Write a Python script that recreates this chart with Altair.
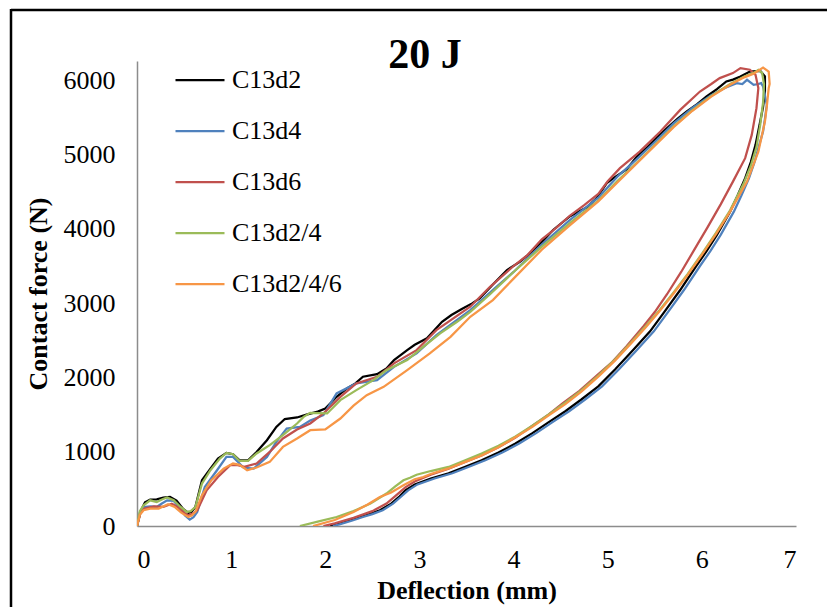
import altair as alt
import pandas as pd

series_names = ["C13d2", "C13d4", "C13d6", "C13d2/4", "C13d2/4/6"]
series_colors = ["#000000", "#4F81BD", "#C0504D", "#9BBB59", "#F79646"]

x_ticks = [0, 1, 2, 3, 4, 5, 6, 7]
y_ticks = [0, 1000, 2000, 3000, 4000, 5000, 6000]
chart_title = "20 J"
x_title = "Deflection (mm)"
y_title = "Contact force (N)"

# C13d2 (black): loading then unloading
c13d2_x = [0, 0.04, 0.085, 0.14, 0.21, 0.28, 0.35, 0.42, 0.49, 0.545, 0.58, 0.62, 0.69, 0.78, 0.86, 0.95, 1.02, 1.09, 1.18, 1.27, 1.38, 1.48, 1.57, 1.70, 1.80, 1.92, 2.0, 2.12, 2.23, 2.32, 2.40, 2.55, 2.65, 2.73, 2.87, 2.95, 3.08, 3.24, 3.34, 3.45, 3.56, 3.64, 3.78, 3.93, 4.07, 4.20, 4.32, 4.42, 4.60, 4.78, 4.88, 4.99, 5.06, 5.20, 5.31, 5.41, 5.52, 5.63, 5.74, 5.84, 5.95, 6.05, 6.16, 6.26, 6.33, 6.41, 6.51, 6.62, 6.67,
           6.67, 6.65, 6.62, 6.57, 6.52, 6.46, 6.38, 6.30, 6.16, 6.05, 5.94, 5.77, 5.60, 5.45, 5.27, 5.08, 4.90, 4.72, 4.55, 4.37, 4.20, 4.02, 3.84, 3.66, 3.48, 3.31, 3.12, 2.95, 2.85, 2.79, 2.70, 2.58, 2.47, 2.37, 2.25, 2.12, 2.05]
c13d2_y = [0, 200, 320, 356, 360, 383, 391, 340, 230, 175, 190, 256, 616, 773, 908, 984, 966, 885, 885, 997, 1155, 1334, 1440, 1461, 1500, 1540, 1582, 1739, 1852, 1920, 2010, 2045, 2121, 2233, 2368, 2440, 2526, 2749, 2840, 2920, 2997, 3065, 3250, 3446, 3558, 3700, 3850, 3985, 4171, 4291, 4412, 4615, 4682, 4800, 4973, 5086, 5230, 5356, 5480, 5580, 5680, 5782, 5880, 5984, 6010, 6051, 6118, 6128, 6051,
           5849, 5640, 5445, 5131, 4900, 4682, 4450, 4232, 3920, 3700, 3500, 3177, 2880, 2620, 2370, 2110, 1880, 1703, 1545, 1395, 1250, 1110, 990, 885, 795, 710, 640, 560, 480, 400, 300, 212, 160, 121, 70, 23, 0]

# C13d4 (blue)
c13d4_x = [0, 0.03, 0.07, 0.14, 0.21, 0.26, 0.32, 0.39, 0.45, 0.51, 0.56, 0.60, 0.64, 0.72, 0.85, 0.95, 1.02, 1.13, 1.24, 1.38, 1.48, 1.59, 1.73, 1.84, 1.98, 2.12, 2.33, 2.55, 2.73, 2.97, 3.18, 3.54, 3.80, 4.0, 4.3, 4.6, 4.9, 5.1, 5.3, 5.5, 5.7, 5.9, 6.1, 6.25, 6.37, 6.43, 6.48, 6.55, 6.60, 6.63, 6.65,
           6.69, 6.67, 6.65, 6.61, 6.56, 6.50, 6.42, 6.34, 6.20, 6.09, 5.98, 5.81, 5.64, 5.49, 5.31, 5.12, 4.94, 4.76, 4.59, 4.41, 4.24, 4.06, 3.88, 3.70, 3.52, 3.35, 3.16, 2.98, 2.88, 2.81, 2.72, 2.61, 2.50, 2.40, 2.28, 2.15, 2.08]
c13d4_y = [0, 180, 256, 263, 256, 300, 346, 338, 250, 140, 86, 120, 189, 526, 751, 930, 930, 787, 774, 930, 1132, 1312, 1334, 1420, 1492, 1784, 1919, 1964, 2143, 2323, 2570, 2907, 3200, 3420, 3790, 4120, 4420, 4700, 4930, 5170, 5420, 5630, 5800, 5900, 5962, 5950, 6007, 5939, 5950, 5962, 5916,
           5670, 5480, 5310, 5131, 4900, 4682, 4450, 4232, 3920, 3700, 3500, 3177, 2880, 2620, 2370, 2110, 1880, 1703, 1545, 1395, 1250, 1110, 990, 885, 795, 710, 640, 560, 480, 400, 300, 212, 160, 121, 70, 23, 0]

# C13d6 (red)
c13d6_x = [0, 0.04, 0.08, 0.18, 0.28, 0.37, 0.44, 0.50, 0.545, 0.60, 0.64, 0.74, 0.86, 0.99, 1.07, 1.14, 1.27, 1.41, 1.55, 1.70, 1.84, 1.98, 2.16, 2.33, 2.55, 2.73, 2.97, 3.18, 3.54, 3.75, 4.0, 4.15, 4.3, 4.45, 4.6, 4.75, 4.9, 5.0, 5.13, 5.34, 5.56, 5.77, 5.98, 6.10, 6.19, 6.33, 6.41, 6.51, 6.57,
           6.60, 6.59, 6.58, 6.53, 6.46, 6.33, 6.20, 6.06, 5.92, 5.78, 5.63, 5.50, 5.38, 5.20, 5.05, 4.88, 4.70, 4.52, 4.37, 4.20, 4.02, 3.84, 3.66, 3.48, 3.31, 3.12, 2.95, 2.85, 2.74, 2.65, 2.50, 2.30, 2.10, 1.98]
c13d6_y = [0, 200, 234, 263, 256, 301, 250, 180, 144, 170, 212, 481, 660, 818, 818, 796, 841, 997, 1178, 1299, 1380, 1515, 1739, 1919, 2008, 2189, 2368, 2637, 2952, 3220, 3500, 3650, 3860, 4010, 4180, 4320, 4470, 4640, 4817, 5040, 5310, 5602, 5849, 5950, 6030, 6097, 6164, 6142, 6074,
           5895, 5760, 5625, 5265, 4952, 4636, 4330, 4020, 3720, 3420, 3120, 2880, 2690, 2420, 2210, 2020, 1820, 1650, 1500, 1350, 1190, 1060, 950, 860, 770, 690, 600, 520, 400, 302, 200, 110, 35, 0]

# C13d2/4 (green)
c13d24_x = [0, 0.03, 0.07, 0.14, 0.21, 0.27, 0.32, 0.39, 0.46, 0.53, 0.57, 0.62, 0.69, 0.78, 0.88, 0.95, 1.02, 1.09, 1.18, 1.27, 1.41, 1.55, 1.70, 1.77, 1.84, 2.02, 2.16, 2.33, 2.51, 2.65, 2.87, 3.04, 3.22, 3.40, 3.54, 3.75, 4.0, 4.3, 4.6, 4.9, 5.1, 5.3, 5.5, 5.7, 5.9, 6.1, 6.3, 6.45, 6.55, 6.60, 6.64,
            6.66, 6.65, 6.62, 6.58, 6.52, 6.44, 6.30, 6.15, 6.00, 5.85, 5.70, 5.55, 5.40, 5.25, 5.08, 4.90, 4.72, 4.55, 4.37, 4.20, 4.02, 3.84, 3.66, 3.48, 3.31, 3.12, 2.97, 2.90, 2.83, 2.74, 2.65, 2.48, 2.30, 2.12, 1.92, 1.73]
c13d24_y = [0, 200, 279, 346, 323, 360, 383, 346, 260, 189, 200, 256, 571, 751, 908, 984, 966, 876, 876, 976, 1088, 1222, 1380, 1469, 1523, 1515, 1694, 1829, 1964, 2098, 2233, 2412, 2593, 2749, 2884, 3120, 3420, 3760, 4080, 4380, 4640, 4880, 5130, 5380, 5600, 5790, 5950, 6050, 6100, 6140, 6100,
            5950, 5700, 5400, 5100, 4850, 4600, 4250, 3945, 3665, 3395, 3145, 2905, 2685, 2475, 2245, 2025, 1825, 1660, 1500, 1350, 1205, 1080, 975, 880, 795, 740, 690, 650, 616, 530, 437, 302, 200, 121, 60, 0]

# C13d2/4/6 (orange)
c13d246_x = [0, 0.03, 0.07, 0.14, 0.23, 0.33, 0.40, 0.47, 0.545, 0.58, 0.62, 0.69, 0.79, 0.92, 1.02, 1.09, 1.17, 1.27, 1.41, 1.55, 1.70, 1.84, 2.0, 2.16, 2.30, 2.44, 2.62, 2.87, 3.11, 3.33, 3.54, 3.78, 4.0, 4.3, 4.6, 4.9, 5.1, 5.3, 5.5, 5.7, 5.9, 6.1, 6.3, 6.45, 6.55, 6.65, 6.71,
             6.72, 6.71, 6.69, 6.67, 6.60, 6.48, 6.30, 6.15, 6.00, 5.85, 5.70, 5.55, 5.40, 5.25, 5.08, 4.90, 4.72, 4.55, 4.37, 4.20, 4.02, 3.84, 3.66, 3.48, 3.31, 3.12, 3.04, 2.95, 2.83, 2.70, 2.58, 2.45, 2.30, 2.10, 1.87]
c13d246_y = [0, 150, 212, 234, 234, 292, 256, 180, 121, 140, 189, 414, 616, 773, 841, 823, 751, 787, 863, 1065, 1178, 1290, 1300, 1447, 1620, 1761, 1873, 2098, 2323, 2547, 2816, 3042, 3330, 3720, 4050, 4370, 4620, 4870, 5120, 5370, 5590, 5780, 5940, 6040, 6090, 6172, 6118,
             5950, 5895, 5650, 5445, 5040, 4636, 4232, 3930, 3650, 3380, 3130, 2890, 2670, 2460, 2230, 2010, 1810, 1640, 1485, 1335, 1195, 1060, 950, 860, 775, 700, 660, 630, 549, 450, 391, 290, 189, 80, 0]

all_x = [c13d2_x, c13d4_x, c13d6_x, c13d24_x, c13d246_x]
all_y = [c13d2_y, c13d4_y, c13d6_y, c13d24_y, c13d246_y]

rows = []
for k, (name, xs, ys) in enumerate(zip(series_names, all_x, all_y)):
    for i, (xv, yv) in enumerate(zip(xs, ys)):
        rows.append({"series": name, "sorder": k, "idx": i, "x": xv, "y": yv})
df = pd.DataFrame(rows)

FONT = "Liberation Serif"

lines = alt.Chart(df).mark_line(strokeWidth=2.25, clip=True).encode(
    x=alt.X("x:Q",
            scale=alt.Scale(domain=[0, 7], nice=False, zero=False),
            axis=alt.Axis(values=x_ticks, title=x_title, format="d",
                          labelPadding=20, titlePadding=5)),
    y=alt.Y("y:Q",
            scale=alt.Scale(domain=[0, 6260], nice=False),
            axis=alt.Axis(values=y_ticks, title=y_title, format="d",
                          labelPadding=22, titlePadding=12)),
    color=alt.Color("series:N",
                    scale=alt.Scale(domain=series_names, range=series_colors),
                    legend=alt.Legend(orient="none", legendX=37, legendY=-7,
                                      title=None, symbolType="stroke",
                                      symbolSize=2401, symbolStrokeWidth=2.25,
                                      labelFont=FONT, labelFontSize=26,
                                      labelColor="black", labelOffset=6,
                                      rowPadding=12, padding=0, labelLimit=400)),
    order=alt.Order("idx:Q"),
)

# chart-area frame: only the top and left edges fall inside the picture
edge_df = pd.DataFrame({"f": [0]})
frame_top = alt.Chart(edge_df).mark_rule(stroke="black", strokeWidth=2.5).encode(
    x=alt.value(-126), x2=alt.value(690), y=alt.value(-51)
)
frame_left = alt.Chart(edge_df).mark_rule(stroke="black", strokeWidth=2.5).encode(
    x=alt.value(-126), y=alt.value(-52), y2=alt.value(560)
)

title_df = pd.DataFrame({"t": [chart_title]})
title = alt.Chart(title_df).mark_text(font=FONT, fontSize=42, fontWeight="bold",
                                      color="black", baseline="alphabetic",
                                      align="center").encode(
    x=alt.value(288), y=alt.value(7), text="t:N"
)

chart = alt.layer(frame_top, frame_left, lines, title).properties(
    width=659, height=465,
    autosize=alt.AutoSizeParams(type="none"),
    padding={"left": 129, "top": 53, "right": 31, "bottom": 81},
    background="white",
).configure_axis(
    grid=False, ticks=False, tickSize=0,
    domainColor="#8c8c8c", domainWidth=1.5,
    labelFont=FONT, labelFontSize=26, labelColor="black",
    titleFont=FONT, titleFontSize=26, titleFontWeight="bold", titleColor="black",
).configure_view(stroke=None)

chart.save("out.html", embed_options={"renderer": "svg", "actions": False})
